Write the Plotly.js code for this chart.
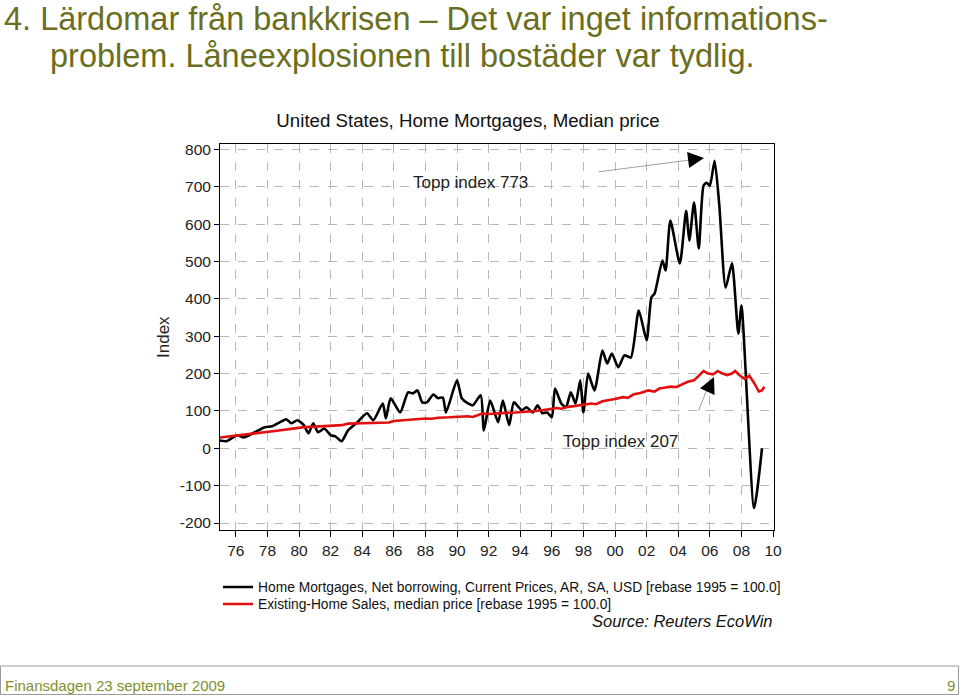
<!DOCTYPE html>
<html>
<head>
<meta charset="utf-8">
<script src="https://cdn.plot.ly/plotly-3.0.1.min.js"></script>
<style>
html,body{margin:0;padding:0;background:#fff;}
#chart{width:960px;height:695px;}
</style>
</head>
<body>
<div id="chart"></div>
<script>
// ---- data ----
const mortYears = [1975.0,1975.4,1976.1,1976.5,1977.2,1977.8,1978.3,1978.8,1979.2,1979.5,1979.9,1980.3,1980.6,1980.9,1981.2,1981.6,1982.0,1982.3,1982.7,1983.1,1983.7,1984.3,1984.7,1985.3,1985.5,1985.8,1986.4,1986.9,1987.2,1987.5,1987.8,1988.1,1988.5,1988.8,1989.1,1989.3,1990.0,1990.3,1990.7,1991.0,1991.5,1991.7,1992.1,1992.6,1992.9,1993.3,1993.6,1994.1,1994.4,1994.8,1995.1,1995.4,1995.7,1996.0,1996.2,1996.6,1996.9,1997.2,1997.5,1997.8,1998.0,1998.3,1998.7,1999.2,1999.5,1999.8,2000.2,2000.6,2001.0,2001.5,2002.0,2002.3,2002.5,2003.0,2003.2,2003.5,2004.1,2004.5,2004.7,2005.0,2005.3,2005.6,2005.8,2006.0,2006.3,2006.6,2007.0,2007.4,2007.8,2008.0,2008.8,2009.3];
const mortValues = [21,19,35,29,43,56,59,70,78,67,75,62,40,67,43,53,35,32,19,48,70,94,75,120,80,134,96,150,147,155,123,123,144,134,136,96,182,134,120,115,142,48,128,70,128,62,123,102,110,96,115,94,96,83,160,120,110,150,120,182,96,200,155,262,227,254,217,249,243,369,289,404,414,503,476,610,495,636,556,658,535,703,711,703,770,650,430,495,307,382,-160,0];

const priceYears = [1975.0,1975.5,1976.0,1976.4,1976.8,1977.2,1977.5,1978.2,1978.6,1978.9,1979.5,1980.2,1980.6,1981.0,1981.6,1982.3,1982.7,1983.1,1983.8,1984.5,1985.3,1985.7,1986.0,1986.7,1987.4,1988.0,1988.4,1988.8,1989.5,1990.2,1990.7,1991.0,1991.3,1991.6,1992.0,1992.5,1993.1,1993.7,1994.5,1995.0,1995.7,1996.3,1996.6,1997.0,1997.4,1997.8,1998.5,1998.8,1999.2,2000.0,2000.5,2000.8,2001.2,2001.6,2002.1,2002.5,2002.8,2003.2,2003.5,2003.9,2004.2,2004.6,2005.0,2005.3,2005.6,2005.9,2006.2,2006.5,2006.8,2007.1,2007.4,2007.6,2007.9,2008.2,2008.5,2008.8,2009.1,2009.3,2009.45];
const priceValues = [29,31,33,36,38,40,42,45,47,48,52,56,57,59,61,63,62,66,67,69,70,69,73,76,78,80,79,82,83,85,86,84,89,93,92,94,95,96,98,100,104,108,106,111,113,115,120,118,126,132,137,135,145,148,155,152,160,163,165,164,170,178,182,195,207,200,198,207,200,196,200,207,195,186,194,175,152,155,165];

const tickYears = [1976,1978,1980,1982,1984,1986,1988,1990,1992,1994,1996,1998,2000,2002,2004,2006,2008,2010];
const tickLabels = ["76","78","80","82","84","86","88","90","92","94","96","98","00","02","04","06","08","10"];
const yTicks = [-200,-100,0,100,200,300,400,500,600,700,800];
const yTickLabels = ["-200","-100","0","100","200","300","400","500","600","700","800"];

const seriesNames = ["Home Mortgages, Net borrowing, Current Prices, AR, SA, USD [rebase 1995 = 100.0]",
                     "Existing-Home Sales, median price [rebase 1995 = 100.0]"];
const peakMort = 773, peakPrice = 207;

// ---- layout helpers (pixel -> paper) ----
const L = 220, R = 774, T = 144, B = 530;
const px = x => (x - L) / (R - L);
const py = y => (B - y) / (B - T);

const FONT = "Arial, 'Liberation Sans', sans-serif";
const olive = "#6b6e1c";
const footer = "#7f8f2c";

const traces = [
  {x: mortYears, y: mortValues, name: seriesNames[0], type: "scatter", mode: "lines", legend: "legend",
   line: {color: "#000000", width: 2.6, shape: "spline", smoothing: 0.6}},
  {x: priceYears, y: priceValues, name: seriesNames[1], type: "scatter", mode: "lines", legend: "legend2",
   line: {color: "#e01010", width: 2.6}}
];

const annotations = [
  {xref:"paper", yref:"paper", x: px(2), y: py(19), xanchor:"left", yanchor:"middle", showarrow:false,
   text:"4. Lärdomar från bankkrisen – Det var inget informations-", font:{family:FONT, size:32.5, color:olive}},
  {xref:"paper", yref:"paper", x: px(48), y: py(56), xanchor:"left", yanchor:"middle", showarrow:false,
   text:"problem. Låneexplosionen till bostäder var tydlig.", font:{family:FONT, size:32.5, color:olive}},
  {xref:"paper", yref:"paper", x: px(163), y: py(337), xanchor:"center", yanchor:"middle", showarrow:false,
   textangle:-90, text:"Index", font:{family:FONT, size:17, color:"#222"}},
  {xref:"paper", yref:"paper", x: px(470), y: py(182), xanchor:"center", yanchor:"middle", showarrow:false,
   text:"Topp index " + peakMort, font:{family:FONT, size:17, color:"#222"}},
  {xref:"paper", yref:"paper", x: px(620), y: py(441), xanchor:"center", yanchor:"middle", showarrow:false,
   text:"Topp index " + peakPrice, font:{family:FONT, size:17, color:"#222"}},
  // arrow to 773 peak: grey shaft + black head
  {xref:"paper", yref:"paper", x: px(690), y: py(160), ax: -93, ay: 12,
   showarrow:true, arrowhead:0, arrowwidth:0.8, arrowcolor:"#888", text:""},
  {xref:"paper", yref:"paper", x: px(704), y: py(158), ax: -16, ay: 2,
   showarrow:true, arrowhead:2, arrowsize:1.6, arrowwidth:2, arrowcolor:"#000", text:""},
  // arrow to 207 peak
  {xref:"paper", yref:"paper", x: px(708), y: py(387), ax: -10, ay: 25,
   showarrow:true, arrowhead:0, arrowwidth:0.8, arrowcolor:"#888", text:""},
  {xref:"paper", yref:"paper", x: px(714), y: py(377), ax: -6, ay: 13,
   showarrow:true, arrowhead:2, arrowsize:1.6, arrowwidth:2, arrowcolor:"#000", text:""},
  {xref:"paper", yref:"paper", x: px(775), y: py(621), xanchor:"right", yanchor:"middle", showarrow:false,
   text:"<i>Source: Reuters EcoWin</i>", font:{family:FONT, size:16.5, color:"#111"}},
  {xref:"paper", yref:"paper", x: px(3), y: py(685), xanchor:"left", yanchor:"middle", showarrow:false,
   text:"Finansdagen 23 september 2009", font:{family:FONT, size:15, color:footer}},
  {xref:"paper", yref:"paper", x: px(957), y: py(685), xanchor:"right", yanchor:"middle", showarrow:false,
   text:"9", font:{family:FONT, size:15, color:footer}}
];

const legendBase = {xanchor: "left", yanchor: "middle", orientation: "v",
  bgcolor: "rgba(0,0,0,0)", font: {family: FONT, size: 13.8, color: "#111"}, itemwidth: 30};

const layout = {
  width: 960, height: 695,
  margin: {l: L, r: 960 - R, t: T, b: 695 - B, pad: 0},
  paper_bgcolor: "#fff", plot_bgcolor: "#fff",
  font: {family: FONT, size: 15, color: "#222"},
  title: {text: "United States, Home Mortgages, Median price", x: 468/960, xref: "container",
          y: 1 - 120/695, yref: "container", xanchor: "center", yanchor: "middle",
          font: {family: FONT, size: 18.7, color: "#111"}},
  xaxis: {range: [1975.0, 2010.06], tickmode: "array", tickvals: tickYears, ticktext: tickLabels,
          ticks: "outside", ticklen: 6, tickcolor: "#000", showline: true, linecolor: "#000", linewidth: 1,
          mirror: true, showgrid: true, gridcolor: "#b8b8b8", griddash: "dash", gridwidth: 1,
          zeroline: false, tickfont: {family: FONT, size: 15.5, color: "#222"}},
  yaxis: {range: [-218.7, 814.7], tickmode: "array", tickvals: yTicks, ticktext: yTickLabels,
          ticks: "outside", ticklen: 5, tickcolor: "#000", showline: true, linecolor: "#000", linewidth: 1,
          mirror: true, showgrid: true, gridcolor: "#b8b8b8", griddash: "dash", gridwidth: 1,
          zeroline: false, tickfont: {family: FONT, size: 15.5, color: "#222"}},
  showlegend: true,
  legend: Object.assign({}, legendBase, {x: px(218), y: py(587)}),
  legend2: Object.assign({}, legendBase, {x: px(218), y: py(604)}),
  annotations: annotations,
  shapes: [
    {type: "rect", xref: "paper", yref: "paper", x0: px(0.5), x1: px(958.5), y0: py(666), y1: py(694.5),
     line: {color: "#9a9a9a", width: 1}, fillcolor: "rgba(0,0,0,0)", layer: "below"}
  ]
};

Plotly.newPlot("chart", traces, layout, {displayModeBar: false, staticPlot: true});
</script>
</body>
</html>
